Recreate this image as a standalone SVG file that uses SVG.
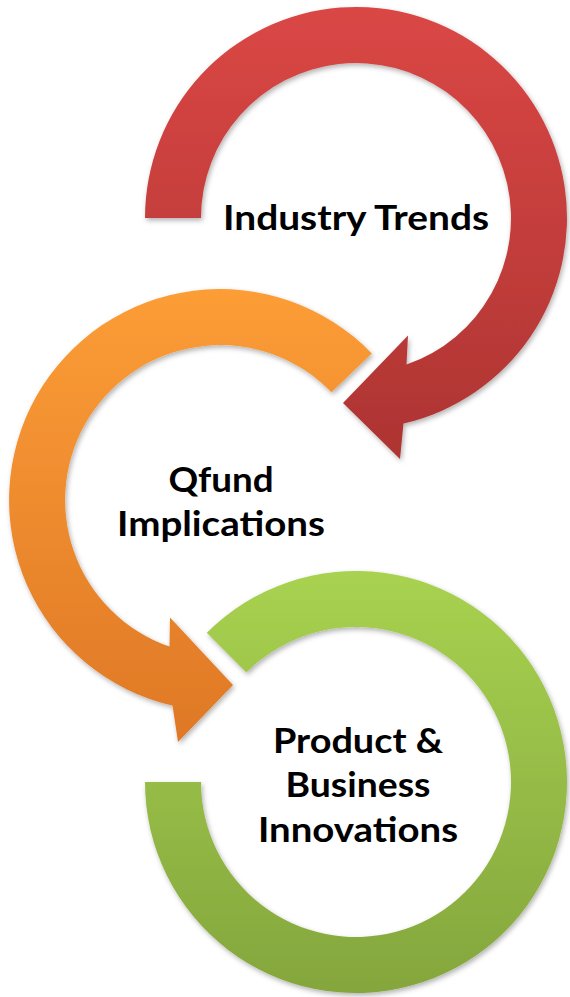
<svg xmlns="http://www.w3.org/2000/svg" width="570" height="997" viewBox="0 0 570 997">
<style>
.lbl{font-family:Lato,"Open Sans","Liberation Sans",sans-serif;font-weight:700;font-size:34px;fill:#000;text-anchor:middle}
</style>
<defs>
<linearGradient id="gRed" x1="0" y1="0" x2="0" y2="1"><stop offset="0" stop-color="#DA4745"/><stop offset="1" stop-color="#AD3432"/></linearGradient>
<linearGradient id="gOra" x1="0" y1="0" x2="0" y2="1"><stop offset="0" stop-color="#FC9D36"/><stop offset="1" stop-color="#DF7826"/></linearGradient>
<linearGradient id="gGrn" x1="0" y1="0" x2="0" y2="1"><stop offset="0" stop-color="#A8D250"/><stop offset="1" stop-color="#84A63D"/></linearGradient>
<filter id="sh" x="-10%" y="-10%" width="120%" height="120%"><feDropShadow dx="1.5" dy="2.5" stdDeviation="2.5" flood-color="#000" flood-opacity="0.3"/></filter>
</defs>
<rect width="570" height="997" fill="#fff"/>
<g id="connectors">
<path id="green-ring" filter="url(#sh)" fill="url(#gGrn)" d="M206.8,632.8 A211,211 0 1 1 145,782 L201,782 A155,155 0 1 0 246.4,672.4 Z"/>
<path id="orange-arrow" filter="url(#sh)" fill="url(#gOra)" d="M371.8,353.4 A211,211 0 1 0 172.5,705.6 L178,742 L233,685 L170,617.5 L169.5,646.6 A155,155 0 1 1 331.5,392.3 Z"/>
<path id="red-arrow" filter="url(#sh)" fill="url(#gRed)" d="M145,218 A211,211 0 1 1 403.5,423.6 L400,459 L343,403 L408,335.5 L406.5,364.6 A155,155 0 1 0 201,218 Z"/>
</g>
<g id="node-industry-trends">
<text class="lbl" x="356" y="230" textLength="266" lengthAdjust="spacingAndGlyphs">Industry Trends</text>
</g>
<g id="node-qfund-implications">
<text class="lbl" x="221" y="492" textLength="105" lengthAdjust="spacingAndGlyphs">Qfund</text>
<text class="lbl" x="221" y="536" textLength="208" lengthAdjust="spacingAndGlyphs">Implications</text>
</g>
<g id="node-product-business-innovations">
<text class="lbl" x="358" y="753" textLength="170" lengthAdjust="spacingAndGlyphs">Product &amp;</text>
<text class="lbl" x="358" y="797" textLength="145" lengthAdjust="spacingAndGlyphs">Business</text>
<text class="lbl" x="358" y="842" textLength="200" lengthAdjust="spacingAndGlyphs">Innovations</text>
</g>
</svg>
